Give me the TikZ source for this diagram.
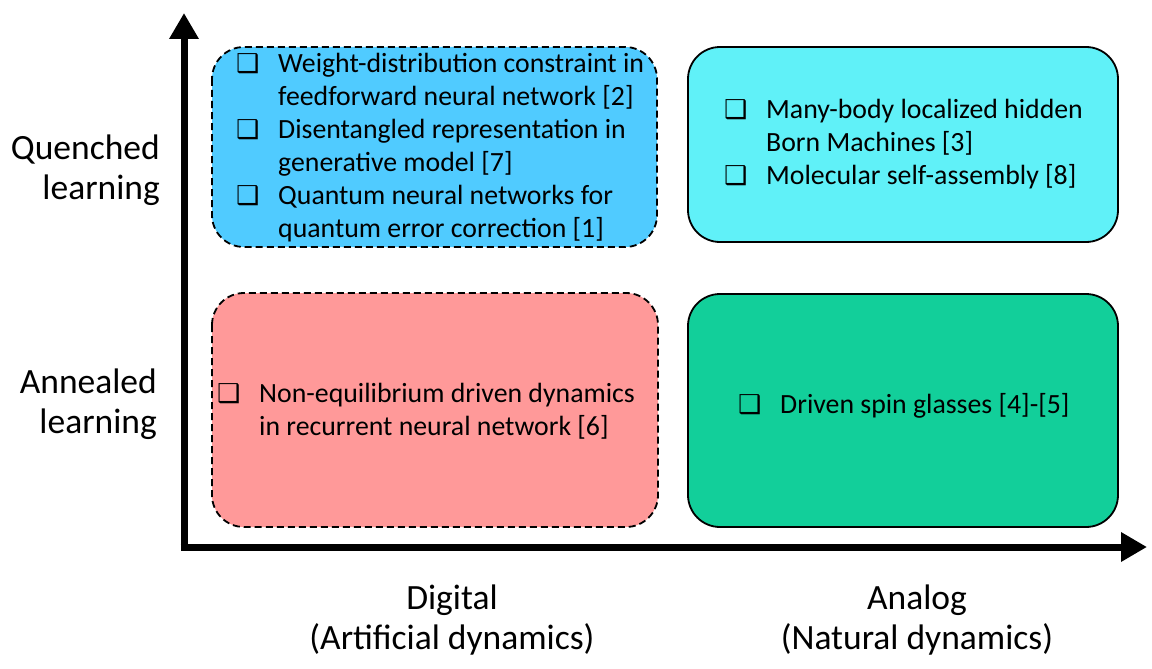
\documentclass[tikz,border=0pt]{standalone}
\usepackage{fontspec}
\setmainfont{Carlito}
\newfontfamily\symfont{DejaVu Sans}
\usetikzlibrary{arrows.meta}

\definecolor{quenchdig}{RGB}{80,203,255}
\definecolor{quenchana}{RGB}{96,241,248}
\definecolor{anneadig}{RGB}{255,153,153}
\definecolor{anneaana}{RGB}{18,207,154}

% check box in front of each item, and the indent of its next line
\newcommand{\chk}{\makebox[42pt][l]{\symfont\bfseries\fontsize{26}{26}\selectfont ❑}}
\newcommand{\ind}{\hspace*{42pt}}

\tikzset{
	box/.style={rounded corners=32pt, line width=1.8pt, draw=black},
	dashbox/.style={box, dash pattern=on 7pt off 4pt},
	item/.style={align=left, anchor=base west, inner sep=0pt, font=\fontsize{27.8}{33}\selectfont},
	axislabel/.style={inner sep=0pt, font=\fontsize{35.5}{40}\selectfont},
	axis/.style={line width=7pt, -{Triangle[width=28pt,length=26pt]}}
}

\begin{document}
\begin{tikzpicture}[x=1pt,y=-1pt]
	\useasboundingbox (0,0) rectangle (1152,669);
	
	% the four fields
	\draw[dashbox,fill=quenchdig] (212,47) rectangle (657,247);
	\draw[box,fill=quenchana] (688,47) rectangle (1118,242);
	\draw[dashbox,fill=anneadig] (212,293) rectangle (658,527);
	\draw[box,fill=anneaana] (688,294) rectangle (1118,527);
	
	% axes
	\coordinate (ybot) at (184,550.5);
	\coordinate (ytip) at (184,13);
	\coordinate (xleft) at (180.5,547);
	\coordinate (xtip) at (1147,547);
	\draw[axis] (ybot) -- (ytip);
	\draw[axis] (xleft) -- (xtip);
	
	% base of a node = baseline of its last line
	\node[axislabel,align=right,anchor=base east] (quenched) at (160,199){Quenched\\learning};
	\node[axislabel,align=right,anchor=base east] (annealed) at (157,433){Annealed\\learning};
	\node[axislabel,align=center,anchor=base] (digital) at (452,649){Digital\\(Artificial dynamics)};
	\node[axislabel,align=center,anchor=base] (analog) at (917,649){Analog\\(Natural dynamics)};
	
	% items
	\node[item] (qdig) at (236,237){\chk Weight-distribution constraint in\\\ind feedforward neural network [2]\\\chk Disentangled representation in\\\ind generative model [7]\\\chk Quantum neural networks for\\\ind quantum error correction [1]};
	\node[item] (qana) at (724,184){\chk Many-body localized hidden\\\ind Born Machines [3]\\\chk Molecular self-assembly [8]};
	\node[item] (adig) at (217,435){\chk Non-equilibrium driven dynamics\\\ind in recurrent neural network [6]};
	\node[item] (aana) at (738,413){\chk Driven spin glasses [4]-[5]};
\end{tikzpicture}
\end{document}
